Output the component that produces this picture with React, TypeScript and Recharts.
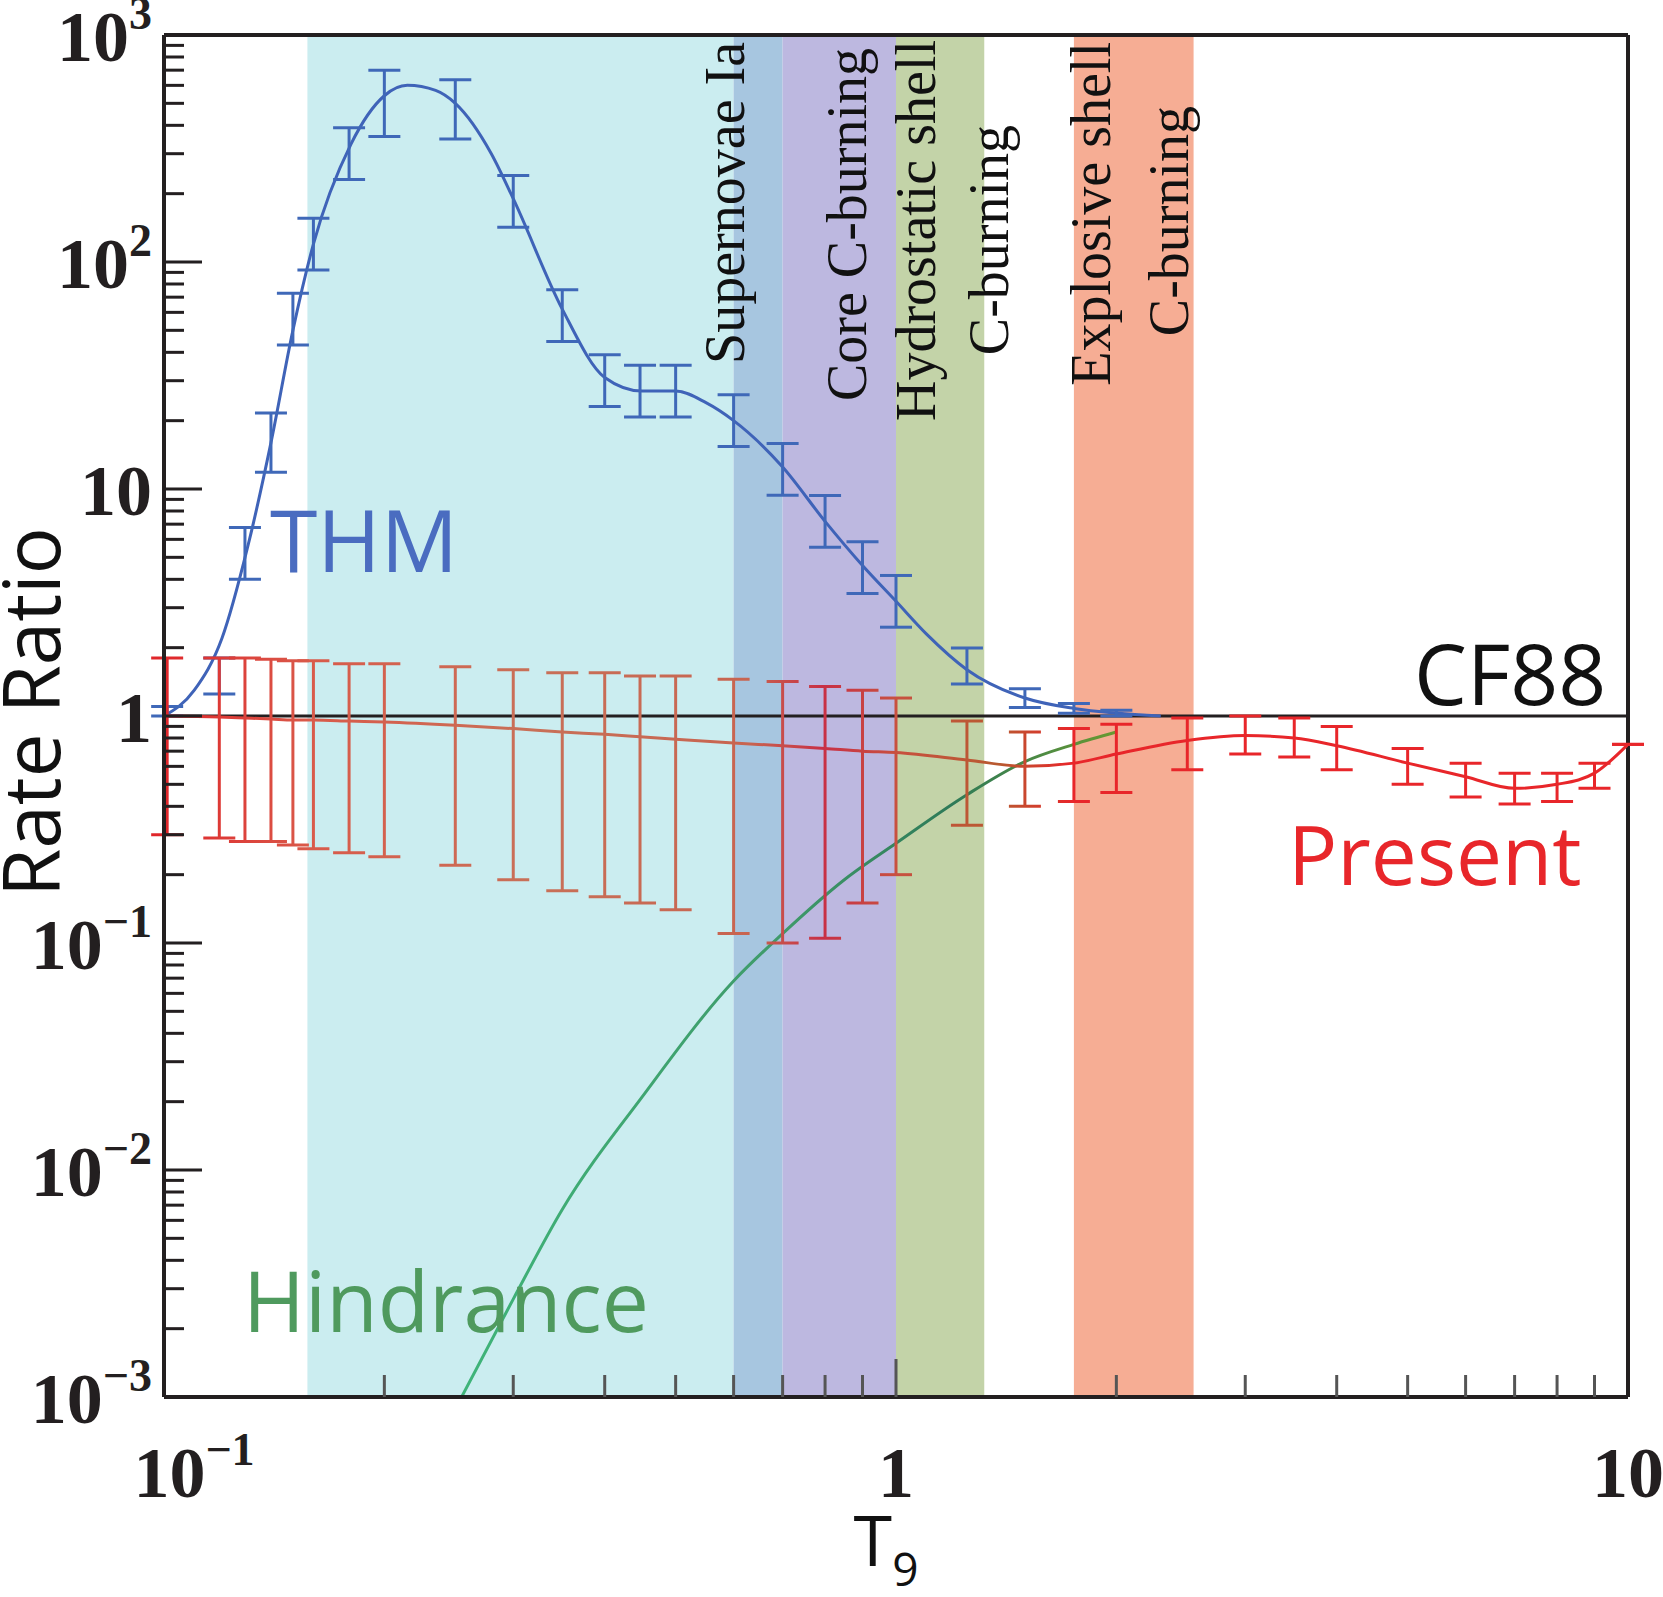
import React from "react";
import {
  ComposedChart,
  Line,
  XAxis,
  YAxis,
  ErrorBar,
  ReferenceArea,
  ReferenceLine,
} from "recharts";

const W = 1663;
const H = 1597;

// THM points with error bars
const thmT = [0.101, 0.119, 0.129, 0.14, 0.15, 0.16, 0.179, 0.2, 0.25, 0.3, 0.35, 0.4, 0.447, 0.5, 0.6, 0.7, 0.8, 0.9, 1.0, 1.25, 1.5, 1.75, 2.0];
const thmVal = [1.05, 1.5, 5.2, 16, 56, 120, 300, 500, 470, 185, 58, 30, 27, 27, 20, 12.2, 7.2, 4.5, 3.2, 1.66, 1.2, 1.08, 1.03];
const thmErr = [1.05, 1.2, 1.3, 1.35, 1.3, 1.3, 1.3, 1.4, 1.35, 1.3, 1.3, 1.3, 1.3, 1.3, 1.3, 1.3, 1.3, 1.3, 1.3, 1.2, 1.1, 1.05, 1.03];

// THM smooth curve
const thmCurveT = [0.1, 0.11, 0.12, 0.13, 0.14, 0.15, 0.16, 0.18, 0.2, 0.215, 0.235, 0.25, 0.28, 0.3, 0.35, 0.4, 0.45, 0.5, 0.55, 0.6, 0.7, 0.8, 0.9, 1.0, 1.1, 1.25, 1.5, 1.75, 2.0, 2.3];
const thmCurveV = [1.0, 1.3, 2.2, 5.5, 16, 50, 120, 330, 540, 600, 570, 500, 300, 190, 62, 31, 27, 27, 24, 20, 12.5, 7.2, 4.6, 3.2, 2.3, 1.6, 1.2, 1.08, 1.03, 1.0];

// Present rate ratio
const presT = [0.101, 0.119, 0.129, 0.14, 0.15, 0.16, 0.179, 0.2, 0.25, 0.3, 0.35, 0.4, 0.447, 0.5, 0.6, 0.7, 0.8, 0.9, 1.0, 1.25, 1.5, 1.75, 2.0, 2.5, 3, 3.5, 4, 5, 6, 7, 8, 9, 10];
const presVal = [1.0, 0.99, 0.98, 0.97, 0.96, 0.96, 0.95, 0.94, 0.91, 0.88, 0.85, 0.83, 0.81, 0.79, 0.76, 0.74, 0.72, 0.7, 0.69, 0.64, 0.6, 0.62, 0.68, 0.78, 0.82, 0.8, 0.74, 0.62, 0.54, 0.48, 0.5, 0.56, 0.75];
const presHi = [1.8, 1.8, 1.8, 1.78, 1.75, 1.75, 1.7, 1.7, 1.65, 1.6, 1.55, 1.55, 1.5, 1.5, 1.45, 1.42, 1.35, 1.3, 1.2, 0.95, 0.85, 0.88, 0.92, 0.98, 1.0, 0.98, 0.9, 0.72, 0.62, 0.56, 0.56, 0.62, 0.75];
const presLo = [0.3, 0.29, 0.28, 0.28, 0.27, 0.26, 0.25, 0.24, 0.22, 0.19, 0.17, 0.16, 0.15, 0.14, 0.11, 0.1, 0.105, 0.15, 0.2, 0.33, 0.4, 0.42, 0.46, 0.58, 0.68, 0.66, 0.58, 0.5, 0.44, 0.41, 0.42, 0.48, 0.75];

// Hindrance
const hinT = [0.255, 0.3, 0.35, 0.45, 0.6, 0.7, 0.85, 1.0, 1.25, 1.5, 1.75, 2.0];
const hinVal = [0.001, 0.0027, 0.0067, 0.021, 0.068, 0.11, 0.19, 0.275, 0.45, 0.63, 0.75, 0.85];

// bands
const bands = [
  { x1: 0.157, x2: 0.6, fill: "#cbedf0" },
  { x1: 0.6, x2: 0.7, fill: "#a7c6e0" },
  { x1: 0.7, x2: 1.0, fill: "#bdb8e0" },
  { x1: 1.0, x2: 1.32, fill: "#c3d3a8" },
  { x1: 1.75, x2: 2.55, fill: "#f6ad94" },
];

const xTicks = [0.1, 0.2, 0.3, 0.4, 0.5, 0.6, 0.7, 0.8, 0.9, 1, 2, 3, 4, 5, 6, 7, 8, 9, 10];
const yTicks: number[] = [];
[-3, -2, -1, 0, 1, 2].forEach((e) => {
  for (let m = 1; m < 10; m++) yTicks.push(+(m * Math.pow(10, e)).toPrecision(3));
});
yTicks.push(1000);

const thmData = thmT.map((t, i) => ({
  t,
  v: thmVal[i],
  err: [thmVal[i] - thmVal[i] / thmErr[i], thmVal[i] * thmErr[i] - thmVal[i]],
}));
const thmCurve = thmCurveT.map((t, i) => ({ t, v: thmCurveV[i] }));
const presData = presT.map((t, i) => ({
  t,
  v: presVal[i],
  err: [presVal[i] - presLo[i], presHi[i] - presVal[i]],
}));
const hinData = hinT.map((t, i) => ({ t, v: hinVal[i] }));

const serif = "'Liberation Serif', 'Times New Roman', serif";
const sans = "'Open Sans', 'Noto Sans', sans-serif";

const isMajor = (v: number) => Math.abs(Math.log10(v) - Math.round(Math.log10(v))) < 1e-6;

const yLabel = (v: number) => {
  const e = Math.round(Math.log10(v));
  if (e === 0) return ["1", ""];
  if (e === 1) return ["10", ""];
  return ["10", e < 0 ? "\u2212" + -e : String(e)];
};

const YTick = (props: any) => {
  const { x, y, payload } = props;
  const v = payload.value;
  const major = isMajor(v);
  const [base, sup] = major ? yLabel(v) : ["", ""];
  return (
    <g>
      <line x1={x} x2={x + (major ? 38 : 20)} y1={y} y2={y} stroke="#231f20" strokeWidth={3} />
      {major && (
        <text x={x - 12} y={y + 26} textAnchor="end" fontFamily={serif} fontWeight="bold" fontSize={72} fill="#231f20">
          {base}
          {sup && (
            <tspan dy={-32} fontSize={46}>
              {sup}
            </tspan>
          )}
        </text>
      )}
    </g>
  );
};

const XTick = (props: any) => {
  const { x, y, payload } = props;
  const v = payload.value;
  const major = isMajor(v);
  if (v === 0.1 || v === 10) {
    return (
      <text x={v === 0.1 ? x + 30 : x} y={y + 100} textAnchor="middle" fontFamily={serif} fontWeight="bold" fontSize={72} fill="#231f20">
        10
        {v === 0.1 && (
          <tspan dy={-32} fontSize={46}>
            {"\u22121"}
          </tspan>
        )}
      </text>
    );
  }
  return (
    <g>
      <line x1={x} x2={x} y1={y} y2={y - (major ? 38 : 22)} stroke="#555" strokeWidth={3} />
      {major && (
        <text x={x} y={y + 100} textAnchor="middle" fontFamily={serif} fontWeight="bold" fontSize={72} fill="#231f20">
          1
        </text>
      )}
    </g>
  );
};

const bandText = [
  { x: 744, y: 42, text: "Supernovae Ia" },
  { x: 866, y: 48, text: "Core C-burning" },
  { x: 935, y: 40, text: "Hydrostatic shell" },
  { x: 1008, y: 125, text: "C-burning" },
  { x: 1110, y: 42, text: "Explosive shell" },
  { x: 1188, y: 106, text: "C-burning" },
];

export default function App() {
  return (
    <div style={{ position: "absolute", left: 0, top: 0, width: W, height: H, background: "#fff" }}>
      <ComposedChart width={W} height={H} margin={{ top: 35, right: 35, left: 14, bottom: 170 }}>
        <defs>
          <linearGradient id="redGrad" gradientUnits="userSpaceOnUse" x1={164} x2={1628} y1={0} y2={0}>
            <stop offset="0%" stopColor="#e0262a" />
            <stop offset="10%" stopColor="#d95a4a" />
            <stop offset="25%" stopColor="#c87058" />
            <stop offset="40%" stopColor="#c86450" />
            <stop offset="45%" stopColor="#c83045" />
            <stop offset="50%" stopColor="#c85040" />
            <stop offset="57%" stopColor="#b85a30" />
            <stop offset="62%" stopColor="#e8262a" />
            <stop offset="100%" stopColor="#e8262a" />
          </linearGradient>
          <linearGradient id="greenGrad" gradientUnits="userSpaceOnUse" x1={450} x2={1120} y1={0} y2={0}>
            <stop offset="0%" stopColor="#3fb57a" />
            <stop offset="50%" stopColor="#3f9a6a" />
            <stop offset="75%" stopColor="#2e7a58" />
            <stop offset="100%" stopColor="#6a9a30" />
          </linearGradient>
        </defs>
        <XAxis
          dataKey="t"
          type="number"
          scale="log"
          domain={[0.1, 10]}
          ticks={xTicks}
          allowDataOverflow
          tick={<XTick />}
          tickLine={false}
          tickSize={0}
          tickMargin={0}
          interval={0}
          axisLine={{ stroke: "#231f20", strokeWidth: 4 }}
        />
        <YAxis
          type="number"
          scale="log"
          domain={[0.001, 1000]}
          ticks={yTicks}
          allowDataOverflow
          width={150}
          tick={<YTick />}
          tickLine={false}
          tickSize={0}
          tickMargin={0}
          interval={0}
          axisLine={{ stroke: "#231f20", strokeWidth: 4 }}
        />
        {bands.map((b, i) => (
          <ReferenceArea key={i} x1={b.x1} x2={b.x2} y1={0.001} y2={1000} fill={b.fill} fillOpacity={1} stroke="none" ifOverflow="visible" />
        ))}
        <ReferenceLine x={10} stroke="#231f20" strokeWidth={4} ifOverflow="visible" />
        <ReferenceLine y={1000} stroke="#231f20" strokeWidth={4} ifOverflow="visible" />
        <ReferenceLine y={1} stroke="#231f20" strokeWidth={3} ifOverflow="visible" />
        <Line data={hinData} dataKey="v" type="monotone" stroke="url(#greenGrad)" strokeWidth={3} dot={false} isAnimationActive={false} />
        <Line data={thmCurve} dataKey="v" type="monotone" stroke="#3f63b8" strokeWidth={3} dot={false} isAnimationActive={false} />
        <Line data={thmData} dataKey="v" stroke="none" dot={false} isAnimationActive={false}>
          <ErrorBar dataKey="err" direction="y" width={16} stroke="#3f68b8" strokeWidth={3} isAnimationActive={false} />
        </Line>
        <Line data={presData} dataKey="v" type="monotone" stroke="url(#redGrad)" strokeWidth={3} dot={false} isAnimationActive={false}>
          <ErrorBar dataKey="err" direction="y" width={16} stroke="url(#redGrad)" strokeWidth={3} isAnimationActive={false} />
        </Line>
      </ComposedChart>
      <svg width={W} height={H} style={{ position: "absolute", left: 0, top: 0, pointerEvents: "none" }}>
        {bandText.map((b, i) => (
          <text key={i} transform={`translate(${b.x},${b.y}) rotate(-90)`} textAnchor="end" fontFamily={serif} fontSize={56} fill="#111">
            {b.text}
          </text>
        ))}
        <text x={270} y={572} fontFamily={sans} fontSize={86} fill="#4a6cc0">THM</text>
        <text x={1288} y={885} fontFamily={sans} fontSize={82} fill="#e8262a">Present</text>
        <text x={243} y={1332} fontFamily={sans} fontSize={84} fill="#4f9a5e">Hindrance</text>
        <text x={1414} y={705} fontFamily={sans} fontSize={84} fill="#111">CF88</text>
        <text transform="translate(60,712) rotate(-90)" textAnchor="middle" fontFamily={sans} fontSize={78} fill="#111">
          Rate Ratio
        </text>
        <text x={886} y={1566} textAnchor="middle" fontFamily={sans} fontSize={70} fill="#111">
          T<tspan dy={20} fontSize={46}>9</tspan>
        </text>
      </svg>
    </div>
  );
}
